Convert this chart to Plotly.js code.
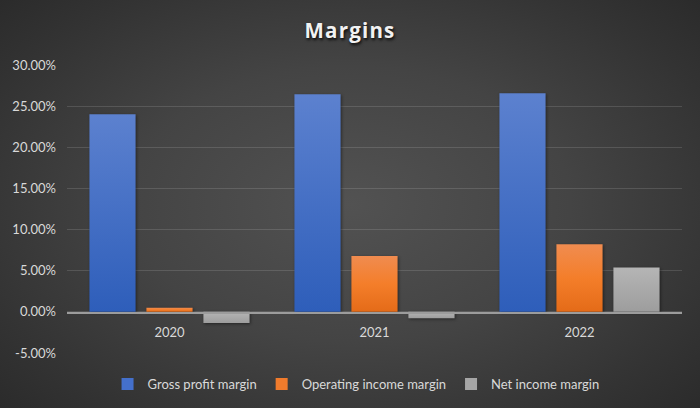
<!DOCTYPE html>
<html>
<head>
<meta charset="utf-8">
<script src="https://cdn.plot.ly/plotly-3.0.1.min.js"></script>
<style>
  html, body { margin: 0; padding: 0; width: 700px; height: 408px; overflow: hidden; }
  #chart {
    width: 700px; height: 408px;
    background: radial-gradient(ellipse 70% 75% at 50% 50%, #525252 0%, #444444 45%, #333333 80%, #2a2a2a 100%);
  }
  .gtitle { letter-spacing: 1.2px; }
  .barlayer .trace:nth-child(1) .point path { fill: url(#gBlue) !important; }
  .barlayer .trace:nth-child(2) .point path { fill: url(#gOrange) !important; }
  .barlayer .trace:nth-child(3) .point path { fill: url(#gGray) !important; }
  .barlayer .point path { filter: drop-shadow(1px 1px 1.5px rgba(0,0,0,0.45)); }
  .legend .legendpoints path.legendbar { transform: translate(26px, 0px) scale(0.7); }
</style>
</head>
<body>
<svg width="0" height="0" style="position:absolute">
  <defs>
    <linearGradient id="gBlue" x1="0" y1="0" x2="0" y2="1">
      <stop offset="0" stop-color="#5c81cf"/>
      <stop offset="1" stop-color="#2e5eba"/>
    </linearGradient>
    <linearGradient id="gOrange" x1="0" y1="0" x2="0" y2="1">
      <stop offset="0" stop-color="#f08c50"/>
      <stop offset="0.5" stop-color="#f47e2a"/>
      <stop offset="1" stop-color="#e46b18"/>
    </linearGradient>
    <linearGradient id="gGray" x1="0" y1="0" x2="0" y2="1">
      <stop offset="0" stop-color="#b5b5b5"/>
      <stop offset="1" stop-color="#9d9d9d"/>
    </linearGradient>
  </defs>
</svg>
<div id="chart"></div>
<script>
const categories = ['2020', '2021', '2022'];
const grossProfitMargin = [0.2401, 0.2644, 0.2656];
const operatingIncomeMargin = [0.0050, 0.0680, 0.0822];
const netIncomeMargin = [-0.0135, -0.0077, 0.0538];
const seriesNames = ['Gross profit margin', 'Operating income margin', 'Net income margin'];
const seriesColors = ['#4470cc', '#f07b2c', '#a6a6a6'];
const yTickVals = [-0.05, 0, 0.05, 0.10, 0.15, 0.20, 0.25, 0.30];
const yTickText = ['-5.00%', '0.00%', '5.00%', '10.00%', '15.00%', '20.00%', '25.00%', '30.00%'];

const seriesValues = [grossProfitMargin, operatingIncomeMargin, netIncomeMargin];
const traces = seriesValues.map((vals, i) => ({
  type: 'bar',
  x: categories,
  y: vals,
  name: seriesNames[i],
  marker: { color: seriesColors[i], line: { width: 0 } },
  hoverinfo: 'skip'
}));

const textColor = '#d9d9d9';
const layout = {
  width: 700, height: 408,
  paper_bgcolor: 'rgba(0,0,0,0)',
  plot_bgcolor: 'rgba(0,0,0,0)',
  font: { family: 'Lato, "Liberation Sans", sans-serif', size: 13, color: textColor },
  title: {
    text: 'Margins',
    font: { family: '"Open Sans", "DejaVu Sans", sans-serif', size: 20.5, color: '#f2f2f2', weight: 'bold',
            shadow: '1px 2px 3px rgba(0,0,0,0.85)' },
    x: 0.5, xanchor: 'center', y: 0.925, yanchor: 'middle'
  },
  margin: { l: 67, r: 18, t: 65, b: 55, autoexpand: false },
  barmode: 'group',
  bargap: 0.166,
  bargroupgap: 0.19,
  xaxis: {
    type: 'category',
    anchor: 'free',
    position: 41 / 288,
    showline: true, linecolor: '#9c9c9c', linewidth: 1.5,
    showgrid: false, ticks: '',
    ticklabelstandoff: 8,
    tickfont: { size: 13, color: textColor }
  },
  yaxis: {
    range: [-0.05, 0.30],
    tickvals: yTickVals, ticktext: yTickText,
    showgrid: true, gridcolor: 'rgba(255,255,255,0.13)', gridwidth: 1,
    zeroline: false, showline: false, ticks: '',
    ticklabelstandoff: 10,
    tickfont: { size: 13, color: textColor }
  },
  showlegend: true,
  legend: {
    orientation: 'h', x: 0.47, xanchor: 'center',
    y: -0.108, yanchor: 'middle',
    font: { size: 13, color: textColor },
    bgcolor: 'rgba(0,0,0,0)'
  }
};

Plotly.newPlot('chart', traces, layout, { displayModeBar: false, staticPlot: true });
</script>
</body>
</html>
